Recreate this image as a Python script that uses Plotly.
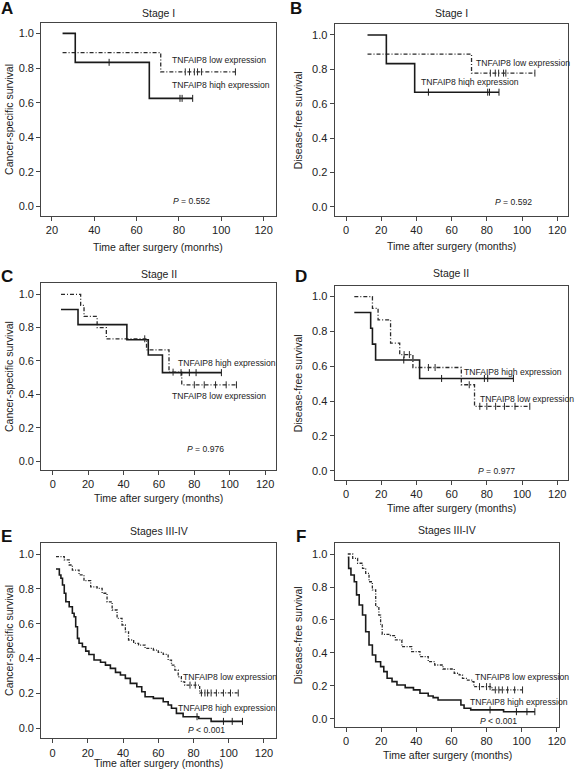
import plotly.graph_objects as go

W, H = 578, 770

# ---------------- data ----------------
panel_letters = ["A", "B", "C", "D", "E", "F"]
panel_titles = ["Stage I", "Stage I", "Stage II", "Stage II", "Stages III-IV", "Stages III-IV"]
y_titles = ["Cancer-specific survival", "Disease-free survival"] * 3
x_titles = ["Time after surgery (monrhs)"] + ["Time after surgery (months)"] * 5
p_texts = ["<i>P</i> = 0.552", "<i>P</i> = 0.592", "<i>P</i> = 0.976",
           "<i>P</i> = 0.977", "<i>P</i> < 0.001", "<i>P</i> < 0.001"]
high_labels = ["TNFAIP8 hiqh expression", "TNFAIP8 hiqh expression",
               "TNFAIP8 high expression", "TNFAIP8 high expression",
               "TNFAIP8 high expression", "TNFAIP8 high expression"]
low_label = "TNFAIP8 low expression"
x_ticks_A = [20, 40, 60, 80, 100, 120]
x_ticks = [0, 20, 40, 60, 80, 100, 120]
y_ticks = [0.0, 0.2, 0.4, 0.6, 0.8, 1.0]

# Panel A
A_high_t = [25, 31, 66, 86.5]
A_high_s = [1.0, 0.833, 0.625, 0.625]
A_high_cens = [47, 80.5, 81.5, 86.5]
A_low_t = [25, 71.4, 106.7]
A_low_s = [0.889, 0.778, 0.778]
A_low_cens = [83, 85, 87.3, 88.8, 90.7, 106.7]

# Panel B
B_high_t = [12.2, 22.9, 39, 86.9]
B_high_s = [1.0, 0.833, 0.667, 0.667]
B_high_cens = [46.8, 80.5, 81.5, 86.9]
B_low_t = [12.2, 71.3, 107.3]
B_low_s = [0.889, 0.778, 0.778]
B_low_cens = [82, 84.8, 86.7, 89.5, 90.8, 107.3]

# Panel C
C_high_t = [4.7, 14.3, 41.9, 54, 62, 95.3]
C_high_s = [0.909, 0.818, 0.727, 0.636, 0.530, 0.530]
C_high_cens = [72.5, 77.2, 81, 95.3]
C_low_t = [4.7, 15.8, 17.7, 25.1, 30.3, 53, 65.7, 72.9, 103.8]
C_low_s = [1.0, 0.933, 0.867, 0.8, 0.733, 0.667, 0.533, 0.457, 0.457]
C_low_cens = [52, 68, 80, 85.6, 92, 98, 103.8]

# Panel D
D_high_t = [4.7, 14, 15, 16.8, 41.8, 95.1]
D_high_s = [0.909, 0.818, 0.727, 0.636, 0.530, 0.530]
D_high_cens = [32.8, 54.3, 78.6, 80.5, 95.1]
D_low_t = [4.7, 15, 18.2, 25.3, 30.5, 38, 65.5, 73, 104.4]
D_low_s = [1.0, 0.933, 0.867, 0.733, 0.667, 0.593, 0.494, 0.370, 0.370]
D_low_cens = [33, 36, 46.8, 50.6, 70, 76, 80, 85, 90, 96, 104.4]

# Panel E
E_low_t = [1.9, 6.6, 9.4, 11.2, 15, 17.8, 21.6, 25.3, 28.1, 30.9, 33.8, 36.6, 39.4,
           41.3, 43.1, 46, 48.8, 52.5, 57.2, 60, 62.8, 65.6, 67.5, 69.4, 71.3, 73.1,
           75, 83.5, 105.4]
E_low_s = [0.985, 0.966, 0.937, 0.908, 0.88, 0.847, 0.812, 0.803, 0.775, 0.726, 0.679,
           0.631, 0.593, 0.554, 0.507, 0.488, 0.478, 0.459, 0.449, 0.436, 0.424, 0.392,
           0.363, 0.334, 0.296, 0.267, 0.248, 0.203, 0.203]
E_low_cens = [78, 81, 84.5, 86.5, 88, 90, 93, 97, 101, 105.4]
E_high_t = [1.9, 3.8, 4.7, 5.6, 6.6, 7.5, 9.4, 11.2, 12.2, 13.1, 14.1, 15, 16.9, 18.8,
            20.6, 23.5, 27.2, 30, 32.8, 35.7, 38.5, 41.3, 44.1, 47.8, 50.6, 52.5, 57.2,
            62.8, 65.6, 67.5, 70.3, 74.1, 83, 90, 107.8]
E_high_s = [0.914, 0.88, 0.861, 0.822, 0.775, 0.726, 0.698, 0.66, 0.64, 0.583, 0.516,
            0.488, 0.468, 0.443, 0.424, 0.392, 0.379, 0.363, 0.344, 0.321, 0.306, 0.287,
            0.258, 0.239, 0.21, 0.181, 0.172, 0.153, 0.134, 0.115, 0.086, 0.067, 0.057,
            0.04, 0.04]
E_high_cens = [82, 97, 102, 107.8]

# Panel F
F_low_t = [1, 3.8, 6.6, 9.4, 11.2, 13.1, 15, 16.9, 18.7, 19.7, 20.6, 25.3, 28.1, 31.8,
           37.4, 42.1, 46.8, 50.5, 55.2, 61.6, 64.4, 66.3, 69.1, 71.9, 72.8, 83.1, 100.5]
F_low_s = [1.0, 0.974, 0.944, 0.913, 0.883, 0.832, 0.782, 0.681, 0.63, 0.57, 0.513,
           0.505, 0.479, 0.438, 0.408, 0.378, 0.347, 0.327, 0.303, 0.277, 0.267, 0.246,
           0.236, 0.226, 0.196, 0.176, 0.176]
F_low_cens = [76, 80, 82, 85, 87, 89, 92, 96, 100.5]
F_high_t = [1, 1.5, 2.8, 4.7, 6, 7.5, 9.4, 11.2, 13.1, 15, 16.9, 19.7, 21.5, 23.4, 26.2,
            29, 33.7, 38.4, 42.1, 46.8, 49.6, 52.4, 65.4, 67.2, 71, 89.7, 107.5]
F_high_s = [0.98, 0.913, 0.873, 0.832, 0.752, 0.691, 0.63, 0.529, 0.448, 0.388, 0.347,
            0.317, 0.287, 0.247, 0.226, 0.206, 0.19, 0.176, 0.156, 0.139, 0.129, 0.115,
            0.085, 0.065, 0.055, 0.044, 0.044]
F_high_cens = [82, 97, 103, 107.5]

# ---------------- layout geometry (pixels) ----------------
boxes = [  # left, right, top, bottom
    (41.7, 279.0, 23.0, 216.0),
    (338.7, 575.3, 24.0, 216.0),
    (41.7, 279.3, 283.3, 470.0),
    (338.7, 575.3, 286.0, 480.0),
    (41.7, 279.3, 542.7, 738.3),
    (338.7, 566.3, 543.3, 726.7),
]
x_ranges = [[14.9, 125.7], [-6.5, 126.3], [-6.5, 126.1], [-6.5, 126.3], [-6.5, 126.8], [-6.5, 121.5]]
y_ranges = [[-0.054, 1.06], [-0.054, 1.064], [-0.054, 1.066], [-0.053, 1.061], [-0.057, 1.065], [-0.047, 1.065]]
xtitle_y = [247, 246, 498, 508, 763, 755]
letter_pos = [(7, 9), (300, 9), (7, 276), (305, 276), (7, 536), (305, 536)]
title_y = [13, 13, 274, 273, 531, 530]
# label positions in data coordinates: (x_low, y_low, x_high, y_high, x_p, y_p)
label_pos = [
    (75.6, 0.844, 75.6, 0.702, 86, 0.03),
    (72.7, 0.835, 41.2, 0.728, 95, 0.027),
    (66.1, 0.392, 69.8, 0.586, 86.2, 0.07),
    (75.1, 0.41, 66.1, 0.569, 85.7, 0.0),
    (72.8, 0.296, 70.3, 0.115, 87.4, -0.01),
    (72.1, 0.256, 69.5, 0.105, 86.7, -0.01),
]

curves = [
    (A_high_t, A_high_s, A_high_cens, A_low_t, A_low_s, A_low_cens),
    (B_high_t, B_high_s, B_high_cens, B_low_t, B_low_s, B_low_cens),
    (C_high_t, C_high_s, C_high_cens, C_low_t, C_low_s, C_low_cens),
    (D_high_t, D_high_s, D_high_cens, D_low_t, D_low_s, D_low_cens),
    (E_high_t, E_high_s, E_high_cens, E_low_t, E_low_s, E_low_cens),
    (F_high_t, F_high_s, F_high_cens, F_low_t, F_low_s, F_low_cens),
]

FONT = "Arial, 'Liberation Sans', Helvetica, sans-serif"
TXT = "#222222"
LINE = "#1a1a1a"
LOWC = "#2a2a2a"


def surv_at(ts, ss, t):
    val = ss[0]
    for ti, si in zip(ts, ss):
        if ti <= t:
            val = si
    return val


fig = go.Figure()
annotations = []
layout_axes = {}

for i in range(6):
    l, r, t, b = boxes[i]
    xa = "xaxis" if i == 0 else f"xaxis{i+1}"
    ya = "yaxis" if i == 0 else f"yaxis{i+1}"
    xr = "x" if i == 0 else f"x{i+1}"
    yr = "y" if i == 0 else f"y{i+1}"
    common = dict(showline=True, mirror=True, linecolor="#444444", linewidth=1,
                  ticks="outside", ticklen=4, tickcolor="#444444", tickwidth=1,
                  showgrid=False, zeroline=False,
                  tickfont=dict(family=FONT, size=11, color=TXT))
    layout_axes[xa] = dict(domain=[l / W, r / W], anchor=yr, range=x_ranges[i],
                           tickvals=x_ticks_A if i == 0 else x_ticks, **common)
    layout_axes[ya] = dict(domain=[1 - b / H, 1 - t / H], anchor=xr, range=y_ranges[i],
                           tickvals=y_ticks, tickformat=".1f", **common)

    ht, hs, hc, lt, ls, lc = curves[i]
    low_dash = "4px,2px,1px,2px" if i < 4 else "3px,1.5px,1px,1.5px"
    fig.add_trace(go.Scatter(x=lt, y=ls, mode="lines", line_shape="hv",
                             line=dict(color=LOWC, width=1.3, dash=low_dash),
                             xaxis=xr, yaxis=yr, showlegend=False, hoverinfo="skip"))
    fig.add_trace(go.Scatter(x=ht, y=hs, mode="lines", line_shape="hv",
                             line=dict(color=LINE, width=1.6),
                             xaxis=xr, yaxis=yr, showlegend=False, hoverinfo="skip"))
    fig.add_trace(go.Scatter(x=lc, y=[surv_at(lt, ls, c) for c in lc], mode="markers",
                             marker=dict(symbol="line-ns-open", size=5, color=LOWC,
                                         line=dict(width=1, color=LOWC)),
                             xaxis=xr, yaxis=yr, showlegend=False, hoverinfo="skip"))
    fig.add_trace(go.Scatter(x=hc, y=[surv_at(ht, hs, c) for c in hc], mode="markers",
                             marker=dict(symbol="line-ns-open", size=5, color=LINE,
                                         line=dict(width=1, color=LINE)),
                             xaxis=xr, yaxis=yr, showlegend=False, hoverinfo="skip"))

    # panel letter
    lx, ly = letter_pos[i]
    annotations.append(dict(text=f"<b>{panel_letters[i]}</b>", x=lx / W, y=1 - ly / H,
                            xref="paper", yref="paper", showarrow=False,
                            xanchor="center", yanchor="middle",
                            font=dict(family=FONT, size=17, color="#111111")))
    # panel title
    annotations.append(dict(text=panel_titles[i], x=(l + r) / 2 / W, y=1 - title_y[i] / H,
                            xref="paper", yref="paper", showarrow=False,
                            xanchor="center", yanchor="middle",
                            font=dict(family=FONT, size=10.5, color=TXT)))
    # x-axis title
    annotations.append(dict(text=x_titles[i], x=(l + r) / 2 / W, y=1 - xtitle_y[i] / H,
                            xref="paper", yref="paper", showarrow=False,
                            xanchor="center", yanchor="middle",
                            font=dict(family=FONT, size=10.5, color=TXT)))
    # y-axis title
    ytx = 8.5 if i % 2 == 0 else 302
    annotations.append(dict(text=y_titles[i], x=ytx / W, y=1 - (t + b) / 2 / H,
                            xref="paper", yref="paper", showarrow=False, textangle=-90,
                            xanchor="center", yanchor="middle",
                            font=dict(family=FONT, size=10.5, color=TXT)))
    # curve labels and P value
    xl, yl, xh, yh, xp, yp = label_pos[i]
    annotations.append(dict(text=low_label, x=xl, y=yl, xref=xr, yref=yr, showarrow=False,
                            xanchor="left", yanchor="middle",
                            font=dict(family=FONT, size=8.6, color=TXT)))
    annotations.append(dict(text=high_labels[i], x=xh, y=yh, xref=xr, yref=yr, showarrow=False,
                            xanchor="left", yanchor="middle",
                            font=dict(family=FONT, size=8.6, color=TXT)))
    annotations.append(dict(text=p_texts[i], x=xp, y=yp, xref=xr, yref=yr, showarrow=False,
                            xanchor="center", yanchor="middle",
                            font=dict(family=FONT, size=8.6, color=TXT)))

fig.update_layout(width=W, height=H, margin=dict(l=0, r=0, t=0, b=0),
                  paper_bgcolor="white", plot_bgcolor="white",
                  annotations=annotations, **layout_axes)

fig.write_html("out.html", config={"displayModeBar": False},
               post_script="document.body.style.margin='0';document.body.style.padding='0';"
                           "document.body.style.overflow='hidden';")
